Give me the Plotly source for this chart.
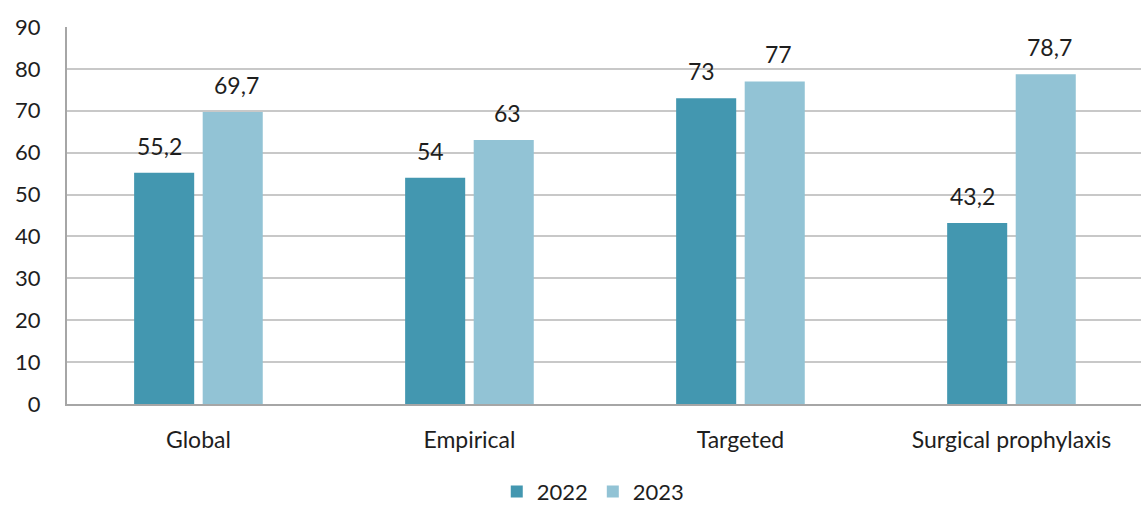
import plotly.graph_objects as go

categories = ["Global", "Empirical", "Targeted", "Surgical prophylaxis"]
values_2022 = [55.2, 54, 73, 43.2]
values_2023 = [69.7, 63, 77, 78.7]
labels_2022 = ["55,2", "54", "73", "43,2"]
labels_2023 = ["69,7", "63", "77", "78,7"]
y_ticks = [0, 10, 20, 30, 40, 50, 60, 70, 80, 90]

font_family = "Lato, 'Open Sans', sans-serif"
text_color = "#1e1e1e"

fig = go.Figure()
fig.add_trace(go.Bar(name="2022", x=categories, y=values_2022,
                     marker_color="#4397B0", marker_line_width=0))
fig.add_trace(go.Bar(name="2023", x=categories, y=values_2023,
                     marker_color="#92C3D5", marker_line_width=0))

# value labels above the bars (offset to each bar in the group)
for cat, v, t in zip(categories, values_2022, labels_2022):
    fig.add_annotation(x=cat, y=v, text=t, showarrow=False, xshift=-38.5,
                       yanchor="bottom", yshift=11, font=dict(size=23, color=text_color))
for cat, v, t in zip(categories, values_2023, labels_2023):
    fig.add_annotation(x=cat, y=v, text=t, showarrow=False, xshift=38.5,
                       yanchor="bottom", yshift=11, font=dict(size=23, color=text_color))

fig.update_layout(
    width=1141, height=507,
    margin=dict(l=67, r=0, t=27, b=103),
    paper_bgcolor="white", plot_bgcolor="white",
    font=dict(family=font_family, color=text_color),
    barmode="group", bargap=0.494, bargroupgap=0.124,
    showlegend=True,
    legend=dict(orientation="h", x=0.49, xanchor="center", yref="container",
                y=0.03, yanchor="middle", font=dict(size=22), traceorder="normal",
                itemwidth=30),
    xaxis=dict(range=[-0.485, 3.478], showline=True, linecolor="#a6a6a6", linewidth=2,
               ticks="", tickfont=dict(size=23), showgrid=False, automargin=False,
               ticklabelstandoff=14),
    yaxis=dict(range=[0, 90], tickvals=y_ticks, showline=True, linecolor="#a6a6a6",
               linewidth=2, showgrid=True, gridcolor="#c8c8c8", gridwidth=2,
               tickfont=dict(size=22), ticklabelstandoff=20, zeroline=False,
               automargin=False),
)

fig.write_html("out.html", config={"displayModeBar": False},
               post_script="document.body.style.margin='0';document.body.style.overflow='hidden';")
